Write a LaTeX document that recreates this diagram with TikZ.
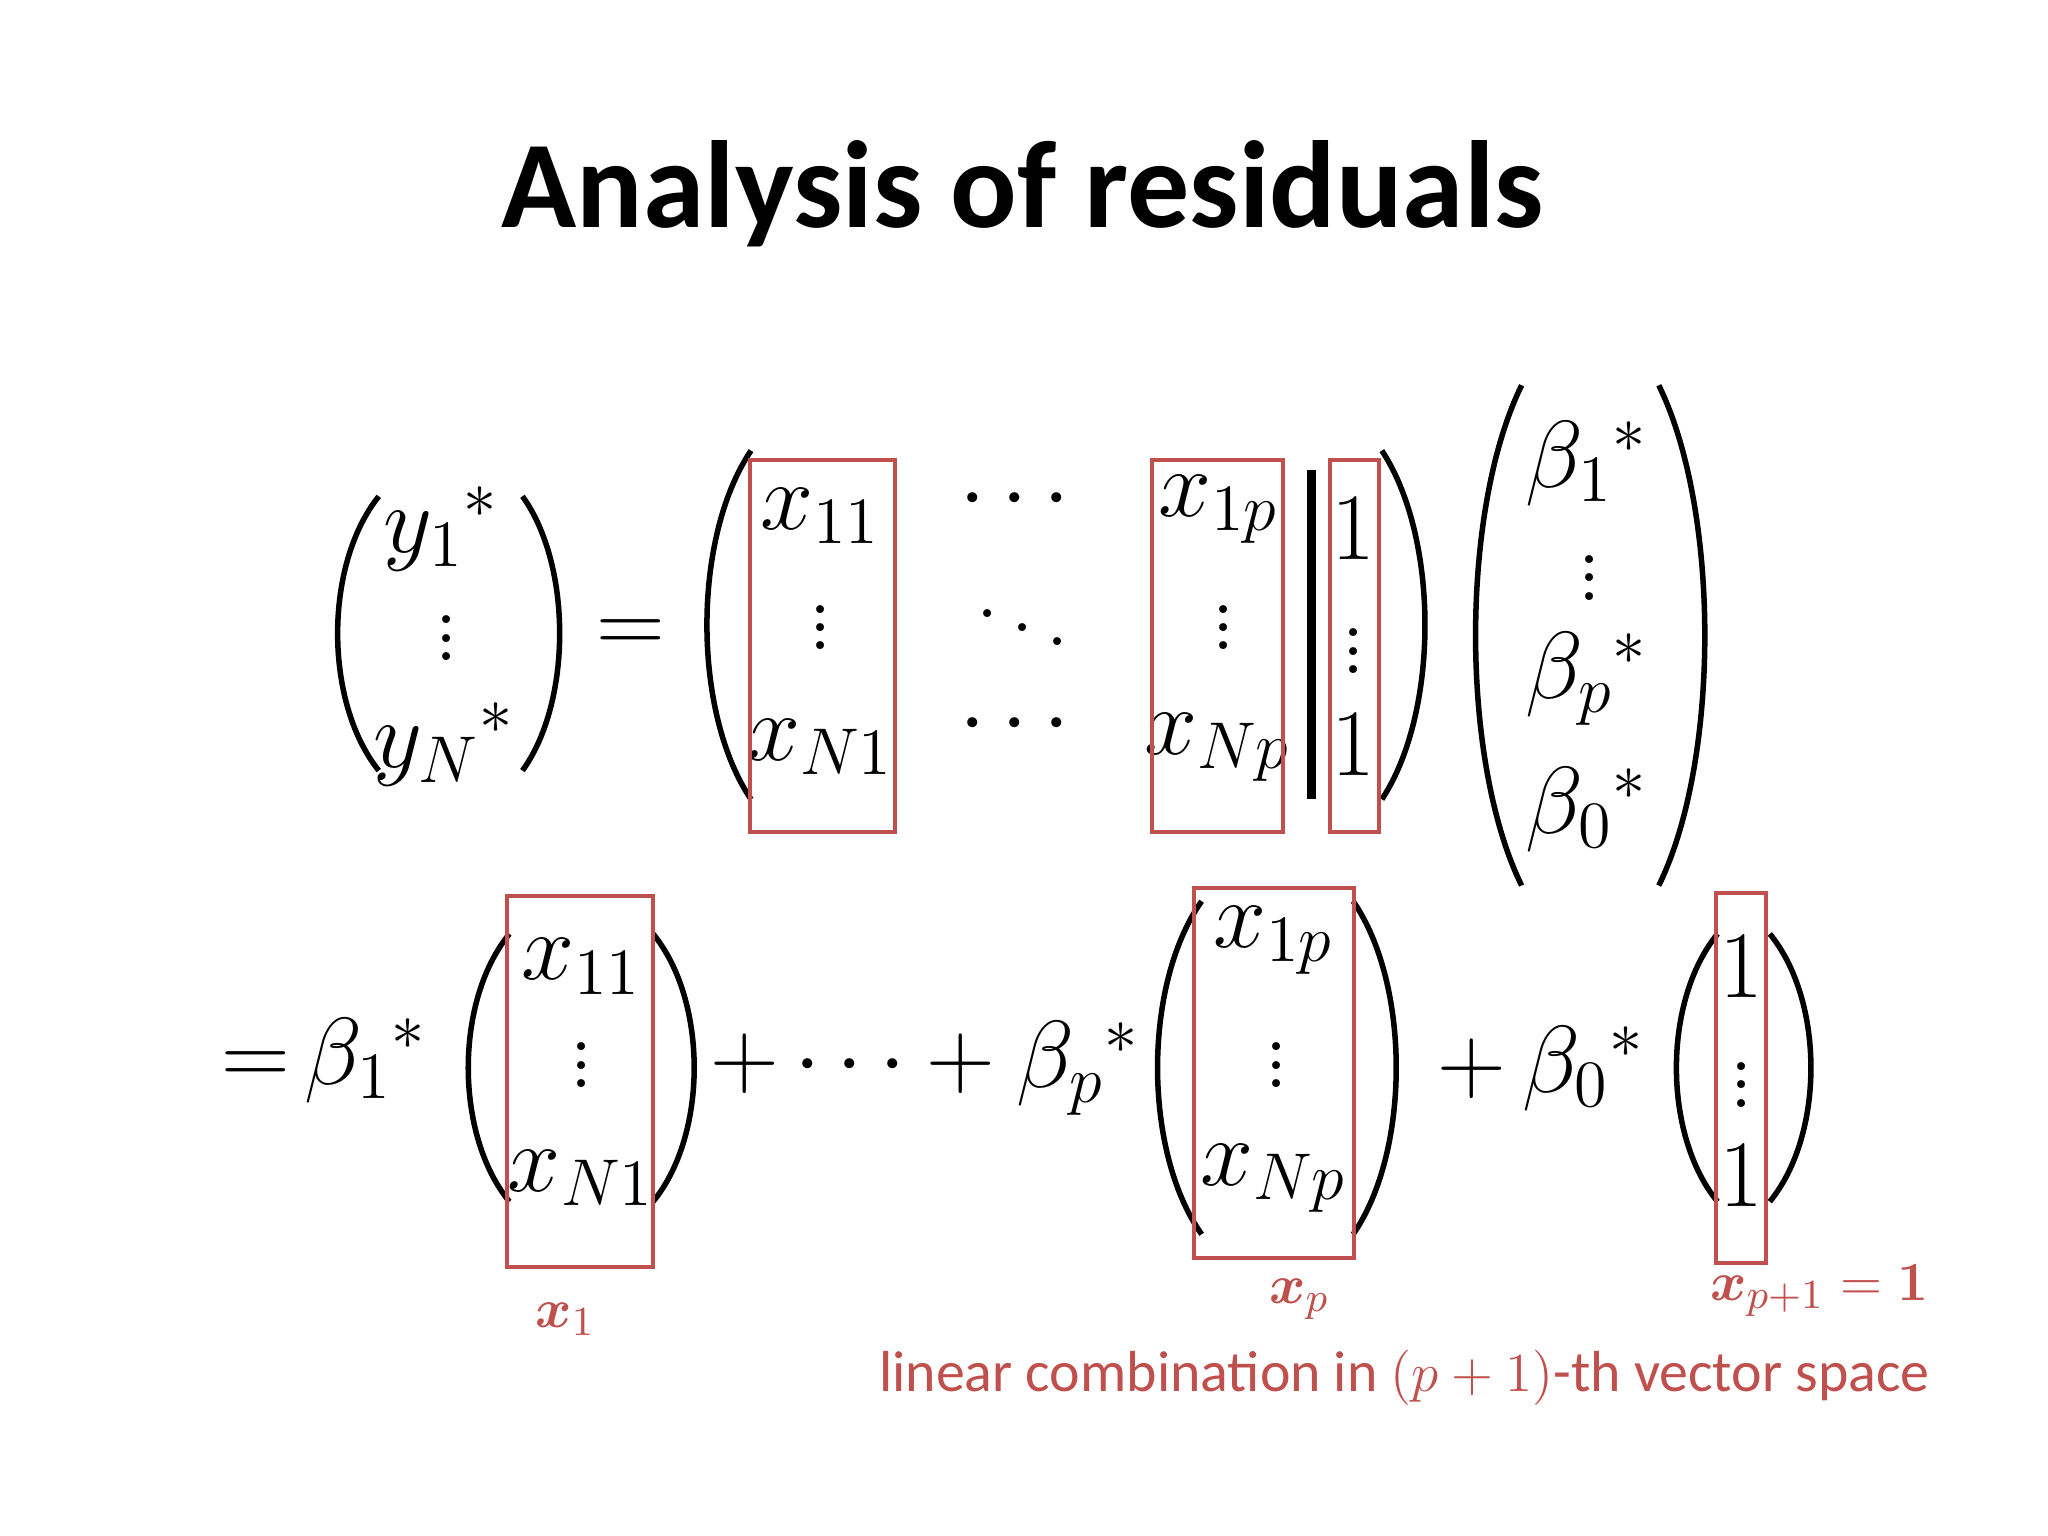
\documentclass[tikz,border=0pt]{standalone}
\usepackage{amsmath,bm}
\usepackage{fontspec}
\newfontfamily\carl{Carlito}
\definecolor{rd}{RGB}{192,80,77}
\begin{document}
\begin{tikzpicture}[x=0.01cm,y=-0.01cm,
  m/.style={inner sep=0pt,font=\fontsize{21}{25}\selectfont},
  rbox/.style={draw=rd,line width=0.85pt},
  lab/.style={inner sep=0pt,text=rd,font=\fontsize{13}{16}\selectfont}]
\useasboundingbox (0,0) rectangle (1568,1176);
\fill[white] (0,0) rectangle (1568,1176);
\newcommand\lp[4]{\draw[line width=1.2pt] (#2,#3) .. controls (#1,{#3+(#4-#3)*0.25}) and (#1,{#4-(#4-#3)*0.25}) .. (#2,#4);}
\node[inner sep=0pt,font=\carl\bfseries\fontsize{27}{32}\selectfont] (title) at (783,148) {Analysis of residuals};
% left vector
\lp{248}{290}{380}{590}\lp{438}{400}{380}{590}
\node[m] (y1) at (338,405) {$y_1{}^*$};
\node[m] (yd) at (342,478) {$\vdots$};
\node[m] (yN) at (340,570) {$y_N{}^*$};
\node[m] (eq1) at (483,487) {$=$};
% matrix
\lp{530}{575}{345}{612}\lp{1102}{1058}{345}{612}
\node[m] (a11) at (628,395) {$x_{11}$};
\node[m] (ad1) at (628,470) {$\vdots$};
\node[m] (aN1) at (628,572) {$x_{N1}$};
\draw[rbox] (574,352) rectangle (685,637);
\node[m] (c1) at (783,383) {$\cdots$};
\node[m] (c2) at (783,470) {$\ddots$};
\node[m] (c3) at (783,555) {$\cdots$};
\node[m] (a1p) at (933,390) {$x_{1p}$};
\node[m] (adp) at (937,470) {$\vdots$};
\node[m] (aNp) at (932,572) {$x_{Np}$};
\draw[rbox] (882,352) rectangle (982,637);
\draw[line width=2pt] (1004,360) -- (1004,612);
\node[m] (o1) at (1036,405) {$1$};
\node[m] (od) at (1036,488) {$\vdots$};
\node[m] (o2) at (1036,570) {$1$};
\draw[rbox] (1018,352) rectangle (1056,637);
% beta
\lp{1118}{1165}{295}{678}\lp{1317}{1270}{295}{678}
\node[m] (b1) at (1215,355) {$\beta_1{}^*$};
\node[m] (bd) at (1217,432) {$\vdots$};
\node[m] (bp) at (1215,520) {$\beta_p{}^*$};
\node[m] (b0) at (1215,620) {$\beta_0{}^*$};
% row 2
\node[m] (eq2) at (196,818) {$=$};
\node[m] (B1) at (280,812) {$\beta_1{}^*$};
\lp{348}{390}{715}{920}\lp{542}{500}{715}{920}
\node[m] (v11) at (445,740) {$x_{11}$};
\node[m] (vd1) at (445,805) {$\vdots$};
\node[m] (vN1) at (445,902) {$x_{N1}$};
\draw[rbox] (388,686) rectangle (500,970);
\node[m] (mid) at (708,818) {$+\cdots+\beta_p{}^*$};
\lp{875}{920}{690}{945}\lp{1080}{1036}{690}{945}
\node[m] (v1p) at (975,720) {$x_{1p}$};
\node[m] (vdp) at (977,805) {$\vdots$};
\node[m] (vNp) at (975,902) {$x_{Np}$};
\draw[rbox] (914,680) rectangle (1037,963);
\node[m] (pl) at (1180,818) {$+\,\beta_0{}^*$};
\lp{1273}{1315}{715}{920}\lp{1397}{1355}{715}{920}
\node[m] (w1) at (1333,740) {$1$};
\node[m] (wd) at (1333,820) {$\vdots$};
\node[m] (w2) at (1333,900) {$1$};
\draw[rbox] (1314,684) rectangle (1352,967);
% labels
\node[lab] (l1) at (433,1010) {$\bm{x}_1$};
\node[lab] (lp) at (995,995) {$\bm{x}_p$};
\node[lab] (lp1) at (1393,988) {$\bm{x}_{p+1}=\bm{1}$};
\node[lab,anchor=east,font=\carl\fontsize{12.6}{15}\selectfont] (lc) at (1478,1055) {linear combination in $(p+1)$-th vector space};
\end{tikzpicture}
\end{document}
